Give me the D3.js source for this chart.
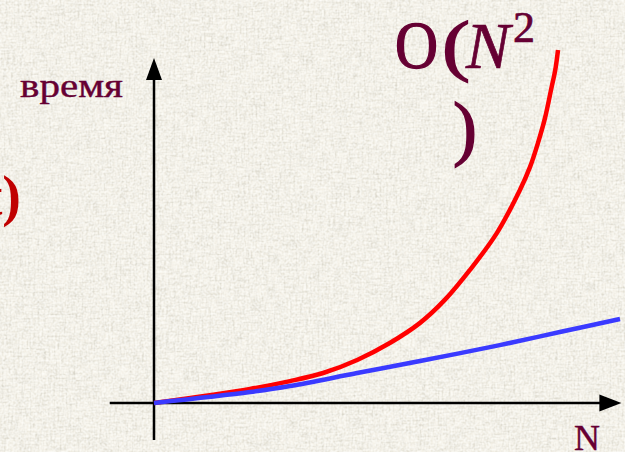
<!DOCTYPE html>
<html>
<head>
<meta charset="utf-8">
<script src="https://cdn.jsdelivr.net/npm/d3@7/dist/d3.min.js"></script>
<style>
  html, body { margin: 0; padding: 0; background: #f2efe5; }
  svg { display: block; }
  .serif { font-family: "Liberation Serif", "Times New Roman", Tinos, serif; }
</style>
</head>
<body>
<script>
// Growth of running time with input size N: quadratic (red) vs near-linear (blue)
const quadN    = [0, 20.6, 29.2, 36.3, 43.6, 50.6, 57.1, 62.4, 67.8, 73.6, 78.5, 80.7, 82.4, 83.9, 85.2, 86.1, 86.7];
const quadTime = [0, 4.0, 6.2, 8.5, 12.2, 17.0, 22.7, 29.2, 37.7, 48.2, 60.3, 66.9, 73.7, 80.7, 88.7, 94.3, 100];

const linN     = [0, 20.6, 29.2, 43.6, 57.1, 74.2, 87.1, 100];
const linTime  = [0, 3.1, 4.8, 8.5, 11.9, 16.4, 20.1, 23.8];

const yLabel = "время";
const xLabel = "N";

const W = 625, H = 452;
const svg = d3.select("body").append("svg").attr("width", W).attr("height", H);

// Woven paper background
const defs = svg.append("defs");
const f = defs.append("filter").attr("id", "paper")
  .attr("x", 0).attr("y", 0).attr("width", W).attr("height", H)
  .attr("filterUnits", "userSpaceOnUse");
f.append("feTurbulence").attr("type", "fractalNoise").attr("baseFrequency", "0.5 0.06")
  .attr("numOctaves", 2).attr("seed", 4).attr("result", "n1");
f.append("feColorMatrix").attr("in", "n1").attr("type", "matrix")
  .attr("values", "0 0 0 0 0.60  0 0 0 0 0.58  0 0 0 0 0.50  1.2 0 0 0 -0.50").attr("result", "c1");
f.append("feTurbulence").attr("type", "fractalNoise").attr("baseFrequency", "0.06 0.5")
  .attr("numOctaves", 2).attr("seed", 9).attr("result", "n2");
f.append("feColorMatrix").attr("in", "n2").attr("type", "matrix")
  .attr("values", "0 0 0 0 0.60  0 0 0 0 0.58  0 0 0 0 0.50  1.2 0 0 0 -0.50").attr("result", "c2");
f.append("feTurbulence").attr("type", "fractalNoise").attr("baseFrequency", "0.45")
  .attr("numOctaves", 1).attr("seed", 2).attr("result", "n3");
f.append("feColorMatrix").attr("in", "n3").attr("type", "matrix")
  .attr("values", "0 0 0 0 1  0 0 0 0 1  0 0 0 0 0.97  1.6 0 0 0 -0.5").attr("result", "c3");
const merge = f.append("feMerge");
merge.append("feMergeNode").attr("in", "SourceGraphic");
merge.append("feMergeNode").attr("in", "c1");
merge.append("feMergeNode").attr("in", "c2");
merge.append("feMergeNode").attr("in", "c3");

svg.append("rect").attr("width", W).attr("height", H)
  .attr("fill", "#f4f1e7").attr("filter", "url(#paper)");

// Scales
const x = d3.scaleLinear().domain([0, 100]).range([154, 620]);
const y = d3.scaleLinear().domain([0, 100]).range([403, 50]);

// Axes with arrowheads
const axisColor = "#000";
const xStart = x(-9.5), xTip = x(100.3), axY = y(0);
const yStart = y(-10.5), yTip = y(97.7), axX = x(0);

svg.append("line").attr("x1", xStart).attr("y1", axY).attr("x2", xTip - 10).attr("y2", axY)
  .attr("stroke", axisColor).attr("stroke-width", 2.5);
svg.append("path")
  .attr("d", `M${xTip},${axY} L${xTip - 22},${axY - 8.5} L${xTip - 22},${axY + 8.5} Z`)
  .attr("fill", axisColor);

svg.append("line").attr("x1", axX).attr("y1", yStart).attr("x2", axX).attr("y2", yTip + 10)
  .attr("stroke", axisColor).attr("stroke-width", 2.5);
svg.append("path")
  .attr("d", `M${axX},${yTip} L${axX - 8},${yTip + 22} L${axX + 8},${yTip + 22} Z`)
  .attr("fill", axisColor);

// Curves
const line = d3.line().x(d => x(d[0])).y(d => y(d[1])).curve(d3.curveCatmullRom.alpha(0.5));

svg.append("path").datum(d3.zip(quadN, quadTime))
  .attr("d", line).attr("fill", "none")
  .attr("stroke", "#ff0000").attr("stroke-width", 4.5).attr("stroke-linecap", "butt");

svg.append("path").datum(d3.zip(linN, linTime))
  .attr("d", line).attr("fill", "none")
  .attr("stroke", "#3a3aff").attr("stroke-width", 4.5).attr("stroke-linecap", "butt");

// Labels
const maroon = "#660033";

svg.append("text").attr("class", "serif").attr("x", 20).attr("y", 97)
  .attr("font-size", 33).attr("fill", maroon)
  .attr("stroke", maroon).attr("stroke-width", 0.4)
  .attr("textLength", 103).attr("lengthAdjust", "spacingAndGlyphs")
  .text(yLabel);

svg.append("text").attr("class", "serif").attr("x", 574).attr("y", 450)
  .attr("font-size", 36).attr("fill", maroon)
  .attr("stroke", maroon).attr("stroke-width", 0.4)
  .text(xLabel);

// O(N²) annotation, wrapped over two lines
const ann = svg.append("g").attr("class", "serif").attr("fill", maroon)
  .attr("stroke", maroon).attr("stroke-width", 1.4);
ann.append("text").attr("x", 395).attr("y", 68).attr("font-size", 67)
  .attr("textLength", 43).attr("lengthAdjust", "spacingAndGlyphs").text("O");
ann.append("text").attr("x", 442).attr("y", 68).attr("font-size", 68)
  .attr("textLength", 28).attr("lengthAdjust", "spacingAndGlyphs").text("(");
ann.append("text").attr("x", 466).attr("y", 68).attr("font-size", 66)
  .attr("font-style", "italic").attr("stroke-width", 0.7).text("N");
ann.append("text").attr("x", 513).attr("y", 42).attr("font-size", 44)
  .attr("stroke-width", 0.7).text("2");
ann.append("text").attr("x", 453).attr("y", 152).attr("font-size", 72).text(")");

// Partially visible label at the left edge
svg.append("text").attr("class", "serif").attr("x", 21).attr("y", 215).attr("text-anchor", "end")
  .attr("font-size", 56).attr("font-weight", "bold")
  .attr("fill", "#c00000").text("t)");
</script>
</body>
</html>
